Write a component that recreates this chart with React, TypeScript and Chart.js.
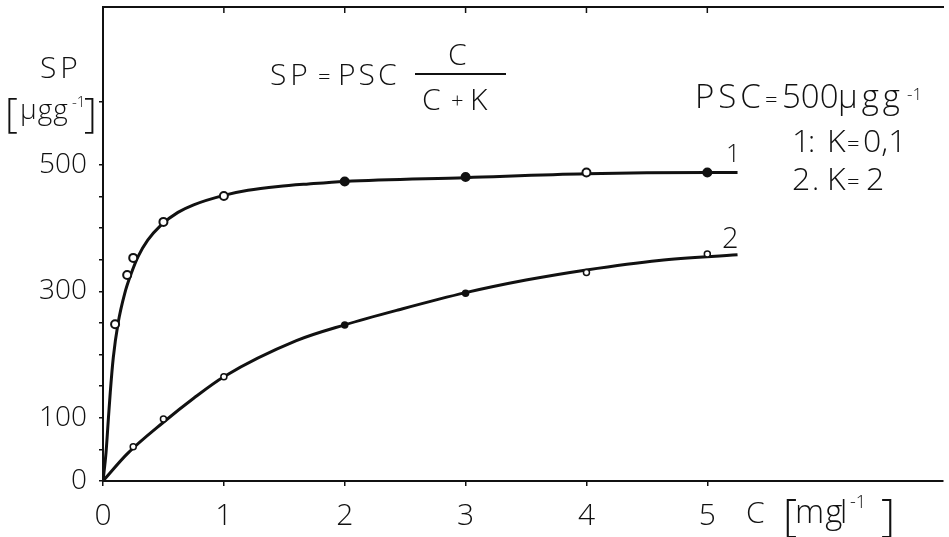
import React, { useEffect, useRef } from 'react';
import { Chart, registerables } from 'chart.js';

Chart.register(...registerables);

// ---- data ----
// curve 1 : K = 0,1
const curve1X = [0, 0.025, 0.045, 0.06, 0.085, 0.125, 0.18, 0.235, 0.29, 0.37, 0.48, 0.62, 0.75, 1, 1.2, 1.45, 1.7, 2, 3, 4, 5, 5.25];
const curve1Y = [0, 45, 100, 140, 195, 250, 297, 329, 355, 381, 405, 425, 437, 452, 460, 466, 470, 474, 480, 486, 488, 488];
// curve 2 : K = 2
const curve2X = [0, 0.2, 0.5, 0.75, 1, 1.6, 2, 2.45, 3, 3.5, 4, 4.6, 5.25];
const curve2Y = [0, 43, 93, 131, 165, 222, 247, 271, 298, 318, 334, 349, 358];
// measured points
const points1X = [0.1, 0.2, 0.25, 0.5, 1, 2, 3, 4, 5];
const points1Y = [248, 326, 353, 410, 451, 474, 481, 488, 488];
const points1Filled = [false, false, false, false, false, true, true, false, true];
const points2X = [0.25, 0.5, 1, 2, 3, 4, 5];
const points2Y = [54, 98, 165, 247, 297, 330, 359];
const points2Filled = [false, false, false, true, true, false, false];
// axes
const xTicks = [0, 1, 2, 3, 4, 5];
const yTicks = [0, 50, 100, 150, 200, 250, 300, 350, 400, 450, 500, 600];
const yLabeled = [0, 100, 300, 500];
const xMin = 0;
const xMax = 6.95;
const yMin = 0;
const yMax = 750;

const FAMILY = '"Open Sans", "DejaVu Sans", sans-serif';
const INK = '#111';

type T = [string, number, number, number, number?];
// text pieces: text, x, baseline, size, letterSpacing
const annotations: T[] = [
  ['SP', 40, 78, 30, 4],
  ['[', 5, 127, 40],
  ['μgg', 20, 119, 28, 1],
  ['-1', 72, 107, 15],
  [']', 84, 127, 40],
  ['SP', 270, 85, 30, 4],
  ['=', 318, 84, 22],
  ['PSC', 338, 85, 30, 3],
  ['C', 448, 65, 30],
  ['C', 422, 110, 30],
  ['+', 451, 108, 22],
  ['K', 470, 110, 30],
  ['PSC', 695, 108, 33, 4],
  ['=', 765, 107, 22],
  ['500', 782, 108, 33],
  ['μgg', 838, 108, 33, 4],
  ['-1', 907, 100, 17],
  ['1', 792, 152, 32],
  [':', 808, 152, 30],
  ['K', 827, 152, 32],
  ['=', 847, 151, 22],
  ['0,1', 863, 152, 32],
  ['2', 792, 190, 32],
  ['.', 812, 190, 30],
  ['K', 827, 190, 32],
  ['=', 847, 189, 22],
  ['2', 866, 190, 32],
  ['1', 726, 162, 25],
  ['2', 722, 248, 29],
  ['C', 746, 523, 30],
  ['[', 783, 531, 44],
  ['mg', 795, 523, 33, 1],
  ['l', 840, 523, 32],
  ['-1', 850, 508, 18],
  [']', 881, 531, 44],
];

const annotationPlugin = {
  id: 'annotationsText',
  afterDraw(chart: any) {
    const ctx = chart.ctx as CanvasRenderingContext2D;
    const xs = chart.scales.x;
    const area = chart.chartArea;
    ctx.save();
    ctx.fillStyle = INK;
    ctx.strokeStyle = INK;
    ctx.textAlign = 'left';
    ctx.textBaseline = 'alphabetic';
    for (const [t, x, y, size, sp] of annotations) {
      ctx.font = `300 ${size}px ${FAMILY}`;
      (ctx as any).letterSpacing = `${sp || 0}px`;
      ctx.fillText(t, x, y);
    }
    (ctx as any).letterSpacing = '0px';
    // fraction bar
    ctx.lineWidth = 2;
    ctx.beginPath();
    ctx.moveTo(415, 74);
    ctx.lineTo(506, 74);
    ctx.stroke();
    // small inward ticks on top frame
    ctx.lineWidth = 1.5;
    for (const v of xTicks) {
      if (v === 0) continue;
      const px = xs.getPixelForValue(v);
      ctx.beginPath();
      ctx.moveTo(px, area.top);
      ctx.lineTo(px, area.top + 6);
      ctx.stroke();
    }
    ctx.restore();
  },
};

export default function App() {
  const ref = useRef<HTMLCanvasElement | null>(null);
  useEffect(() => {
    if (!ref.current) return;
    const c1 = curve1X.map((x, i) => ({ x, y: curve1Y[i] }));
    const c2 = curve2X.map((x, i) => ({ x, y: curve2Y[i] }));
    const p1 = points1X.map((x, i) => ({ x, y: points1Y[i] }));
    const p2 = points2X.map((x, i) => ({ x, y: points2Y[i] }));
    const chart = new Chart(ref.current, {
      type: 'line',
      data: {
        datasets: [
          {
            label: 'points 1',
            data: p1,
            showLine: false,
            order: 0,
            pointStyle: 'circle',
            pointRadius: 4,
            pointBorderWidth: 2,
            pointBorderColor: INK,
            pointBackgroundColor: points1Filled.map((f) => (f ? INK : '#fff')),
          },
          {
            label: 'points 2',
            data: p2,
            showLine: false,
            order: 0,
            pointStyle: 'circle',
            pointRadius: 3,
            pointBorderWidth: 1.5,
            pointBorderColor: INK,
            pointBackgroundColor: points2Filled.map((f) => (f ? INK : '#fff')),
          },
          {
            label: 'K = 0,1',
            data: c1,
            order: 1,
            borderColor: INK,
            borderWidth: 3,
            pointRadius: 0,
            cubicInterpolationMode: 'monotone',
            fill: false,
          },
          {
            label: 'K = 2',
            data: c2,
            order: 1,
            borderColor: INK,
            borderWidth: 3,
            pointRadius: 0,
            cubicInterpolationMode: 'monotone',
            fill: false,
          },
        ],
      },
      options: {
        animation: false,
        responsive: true,
        maintainAspectRatio: false,
        layout: { padding: { top: 7, left: 0, right: 0, bottom: 0 } },
        plugins: { legend: { display: false }, tooltip: { enabled: false } },
        scales: {
          x: {
            type: 'linear',
            position: 'bottom',
            min: xMin,
            max: xMax,
            afterBuildTicks: (s: any) => {
              s.ticks = xTicks.map((v) => ({ value: v }));
            },
            afterFit: (s: any) => {
              s.height = 56;
              s.paddingLeft = 0;
              s.paddingRight = 0;
            },
            grid: { drawOnChartArea: false, drawTicks: true, tickLength: 5, color: INK, lineWidth: 1.5 },
            border: { display: true, color: INK, width: 2 },
            ticks: {
              color: INK,
              padding: 12,
              maxRotation: 0,
              autoSkip: false,
              font: { family: FAMILY, size: 30, weight: '300' },
              callback: (v: any) => String(v),
            },
          },
          x2: {
            type: 'linear',
            position: 'top',
            min: xMin,
            max: xMax,
            afterFit: (s: any) => {
              s.height = 0;
              s.paddingLeft = 0;
              s.paddingRight = 0;
            },
            grid: { display: false },
            ticks: { display: false },
            border: { display: true, color: INK, width: 2 },
          },
          y: {
            type: 'linear',
            position: 'left',
            min: yMin,
            max: yMax,
            afterBuildTicks: (s: any) => {
              s.ticks = yTicks.map((v) => ({ value: v }));
            },
            afterFit: (s: any) => {
              s.width = 103;
              s.paddingTop = 0;
              s.paddingBottom = 0;
            },
            grid: { drawOnChartArea: false, drawTicks: true, tickLength: 4, color: INK, lineWidth: 1.5 },
            border: { display: true, color: INK, width: 2 },
            ticks: {
              color: INK,
              padding: 12,
              autoSkip: false,
              font: { family: FAMILY, size: 28, weight: '300' },
              callback: (v: any) => (yLabeled.includes(Number(v)) ? String(v) : ''),
            },
          },
        },
      },
      plugins: [annotationPlugin],
    });
    return () => chart.destroy();
  }, []);

  return (
    <div style={{ position: 'absolute', left: 0, top: 0, width: 949, height: 537, background: '#fff' }}>
      <canvas ref={ref} />
    </div>
  );
}
